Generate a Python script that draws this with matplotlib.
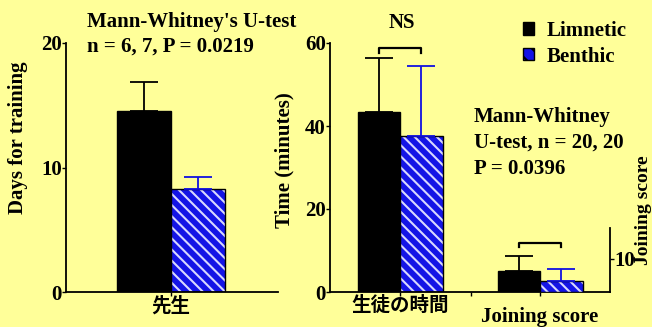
import matplotlib.pyplot as plt
from matplotlib.patches import Patch

# ---- data ----
groups = ["Limnetic", "Benthic"]
train_days = [14.5, 8.3]
train_err = [2.4, 0.9]
time_min = [43.4, 37.6]
time_err = [13.0, 16.9]
join_score = [6.4, 3.3]
join_err = [4.5, 3.7]

BG = "#FFFF99"
BLUE = "#1414E6"
STRIPE = "#D8D8FF"
SERIF = ["Liberation Serif", "DejaVu Serif"]
CJK = ["Noto Sans CJK JP", "DejaVu Sans"]
FS = 15

plt.rcParams["hatch.linewidth"] = 1.5

fig = plt.figure(figsize=(6.52, 3.27), dpi=100)
fig.patch.set_facecolor(BG)

W, H = 652, 327


def rect(x0, y0, x1, y1):
    return [x0 / W, 1 - y1 / H, (x1 - x0) / W, (y1 - y0) / H]


def bold_ticks(ax):
    for lab in ax.get_yticklabels():
        lab.set_fontfamily(SERIF)
        lab.set_fontweight("bold")
        lab.set_fontsize(FS)


def style_ax(ax):
    ax.set_facecolor("none")
    for s in ["top", "right"]:
        ax.spines[s].set_visible(False)
    for s in ["left", "bottom"]:
        ax.spines[s].set_linewidth(1.3)
    ax.tick_params(length=3, width=1.0, pad=0)
    bold_ticks(ax)


def draw_pair(ax, xs, vals, errs):
    ax.bar(xs[0], vals[0], width=1, color="black", edgecolor="black", linewidth=1)
    # striped blue bar: hatch drawn in the light stripe colour, outline on top
    ax.bar(xs[1], vals[1], width=1, color=BLUE, edgecolor=STRIPE, linewidth=0,
           hatch="\\\\\\")
    ax.bar(xs[1], vals[1], width=1, fill=False, edgecolor="black", linewidth=1)
    ax.errorbar(xs[0], vals[0], yerr=[[0], [errs[0]]], color="black",
                capsize=10, elinewidth=1.3, capthick=1.3, fmt="none")
    ax.errorbar(xs[1], vals[1], yerr=[[0], [errs[1]]], color="#1010E0",
                capsize=10, elinewidth=1.3, capthick=1.3, fmt="none")


# ---- left panel: days for training ----
ax1 = fig.add_axes(rect(66, 43, 278, 292))
draw_pair(ax1, [-0.5, 0.5], train_days, train_err)
ax1.set_xlim(-1.944, 1.98)
ax1.set_ylim(0, 20)
ax1.set_yticks([0, 10, 20])
ax1.set_xticks([0])
ax1.set_xticklabels(["先生"], family=CJK, fontweight="bold", fontsize=14)
style_ax(ax1)

# ---- middle panel: time + joining score ----
u = 42.5
ax2 = fig.add_axes(rect(330, 43, 610, 292))
draw_pair(ax2, [-0.5, 0.5], time_min, time_err)
ax2.set_xlim((330 - 400) / u, (610 - 400) / u)
ax2.set_ylim(0, 60)
ax2.set_yticks([0, 20, 40, 60])
x2 = (540 - 400) / u
ax2.set_xticks([0, (471 - 400) / u, x2])
ax2.set_xticklabels(["生徒の時間", "", ""], family=CJK, fontweight="bold", fontsize=14)
style_ax(ax2)

ax3 = ax2.twinx()
ax3.set_position(rect(330, 43, 610, 292))
draw_pair(ax3, [x2 - 0.5, x2 + 0.5], join_score, join_err)
ax3.set_ylim(0, 249 / 3.3)
ax3.set_xlim(ax2.get_xlim())
ax3.set_facecolor("none")
for s in ["top", "left", "bottom"]:
    ax3.spines[s].set_visible(False)
ax3.spines["right"].set_bounds(0, 19.4)
ax3.spines["right"].set_linewidth(1.3)
ax3.set_yticks([10])
ax3.tick_params(length=3, width=1.0, pad=0)
bold_ticks(ax3)

# significance brackets
ax2.plot([-0.5, -0.5, 0.5, 0.5], [57.6, 58.8, 58.8, 57.6], color="black", lw=1.6,
         clip_on=False)
ax2.text(0.05, 62.5, "NS", ha="center", va="bottom", family=SERIF,
         fontweight="bold", fontsize=FS)
ax3.plot([x2 - 0.5, x2 - 0.5, x2 + 0.5, x2 + 0.5], [13.6, 15.0, 15.0, 13.6],
         color="black", lw=1.6)

# ---- texts ----
tkw = dict(family=SERIF, fontweight="bold", fontsize=FS, va="center", ha="left")
fig.text(87 / W, 1 - 22 / H, "Mann-Whitney's U-test", **tkw)
fig.text(87 / W, 1 - 47 / H, "n = 6, 7, P = 0.0219", **tkw)
fig.text(474 / W, 1 - 117 / H, "Mann-Whitney", **tkw)
fig.text(474 / W, 1 - 143 / H, "U-test, n = 20, 20", **tkw)
fig.text(474 / W, 1 - 169 / H, "P = 0.0396", **tkw)

rkw = dict(family=SERIF, fontweight="bold", fontsize=FS, ha="center", va="center",
           rotation=90)
fig.text(18 / W, 1 - 138 / H, "Days for training", **rkw)
fig.text(284 / W, 1 - 160 / H, "Time (minutes)", **rkw)
rkw["fontsize"] = 14
fig.text(644 / W, 1 - 210 / H, "Joining score", **rkw)
fig.text(540 / W, 1 - 317 / H, "Joining score", family=SERIF, fontweight="bold",
         fontsize=FS, ha="center", va="center")

# ---- legend ----
handles = [Patch(facecolor="black", edgecolor="black"),
           Patch(facecolor=BLUE, edgecolor="black", hatch="\\\\")]
leg = fig.legend(handles, groups, loc="upper left", bbox_to_anchor=(504 / W, 1 - 2 / H),
                 frameon=False, handlelength=0.55, handleheight=0.55, handletextpad=0.6,
                 labelspacing=0.28,
                 prop=dict(family=SERIF, weight="bold", size=FS))

fig.savefig("out.png", dpi=100, facecolor=BG)
